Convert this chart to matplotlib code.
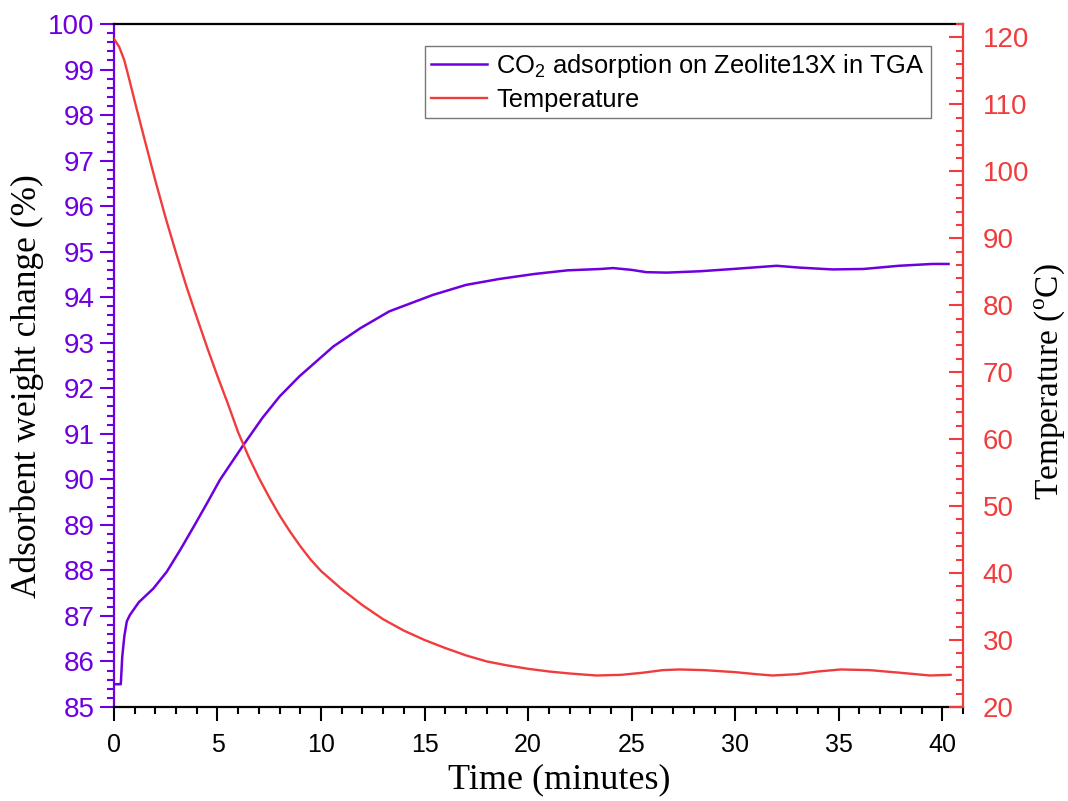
import matplotlib
matplotlib.use("Agg")
import matplotlib.pyplot as plt
from matplotlib.ticker import MultipleLocator

plt.rcParams['mathtext.fontset'] = 'custom'
plt.rcParams['mathtext.rm'] = 'Liberation Serif'
plt.rcParams['mathtext.sf'] = 'Liberation Sans'

# --- data ---
t_w = [0, 0.33, 0.4, 0.5, 0.62, 0.77, 1.2, 1.9, 2.55, 3.2, 3.85, 4.5, 5.12, 6.2, 7.17, 8.0,
       8.95, 10.6, 11.9, 13.3, 15.4, 17.0, 18.6, 20.3, 21.9, 23.5, 24.1, 25.0, 25.7, 26.7,
       28.3, 29.9, 32.0, 33.1, 34.7, 36.2, 37.9, 39.5, 40.3]
weight = [85.5, 85.5, 86.1, 86.55, 86.88, 87.02, 87.3, 87.6, 87.97, 88.45, 88.96, 89.48, 89.99,
          90.72, 91.35, 91.82, 92.26, 92.92, 93.32, 93.69, 94.05, 94.27, 94.4, 94.51, 94.59,
          94.62, 94.64, 94.6, 94.55, 94.54, 94.57, 94.62, 94.69, 94.65, 94.61, 94.62, 94.69,
          94.73, 94.73]

t_T = [0, 0.25, 0.5, 0.75, 1.0, 1.5, 2.0, 2.5, 3.0, 3.5, 4.0, 4.5, 5.0, 5.5, 6.0, 6.5,
       7.0, 7.5, 8.0, 8.5, 9.0, 9.5, 10.0, 11.0, 12.0, 13.0, 14.0, 15.0, 16.0, 17.0, 18.0,
       19.0, 20.0, 21.0, 22.0, 23.3, 24.5, 25.5, 26.5, 27.3, 28.5, 30.0, 31.0, 31.8, 33.0,
       34.0, 35.1, 36.5, 38.0, 39.4, 40.4]
temp = [119.8, 118.6, 116.6, 113.6, 110.5, 104.5, 98.6, 93.0, 87.8, 82.8, 78.2, 73.7, 69.4,
        65.3, 61.0, 57.4, 54.2, 51.3, 48.6, 46.2, 44.0, 42.0, 40.3, 37.6, 35.2, 33.1, 31.4,
        30.0, 28.8, 27.7, 26.8, 26.2, 25.7, 25.3, 25.0, 24.7, 24.8, 25.1, 25.5, 25.6, 25.5,
        25.2, 24.9, 24.7, 24.9, 25.3, 25.6, 25.5, 25.1, 24.7, 24.8]

x_ticks = [0, 5, 10, 15, 20, 25, 30, 35, 40]
left_ticks = list(range(85, 101))
right_ticks = list(range(20, 121, 10))

purple = '#6E00E0'
red = '#F03C3C'

fig = plt.figure(figsize=(10.68, 8.01), dpi=100)
ax1 = fig.add_axes([0.1067, 0.1174, 0.9017 - 0.1067, 0.970 - 0.1174])
ax2 = ax1.twinx()

l1, = ax1.plot(t_w, weight, color=purple, lw=1.8,
               label='CO$_\\mathsf{2}$ adsorption on Zeolite13X in TGA')
l2, = ax2.plot(t_T, temp, color=red, lw=1.7, label='Temperature')

ax1.set_xlim(0, 41)
ax1.set_ylim(85, 100)
ax2.set_ylim(20, 122)

ax1.set_xticks(x_ticks)
ax1.xaxis.set_minor_locator(MultipleLocator(1))
ax1.set_yticks(left_ticks)
ax1.yaxis.set_minor_locator(MultipleLocator(0.2))
ax2.set_yticks(right_ticks)
ax2.yaxis.set_minor_locator(MultipleLocator(2))

tickfont = 'Liberation Sans'
ax1.tick_params(axis='x', which='major', direction='out', length=10, width=1.5,
                labelsize=18, colors='black', pad=9)
ax1.tick_params(axis='x', which='minor', direction='out', length=5, width=1.5, colors='black')
ax1.tick_params(axis='y', which='major', direction='out', length=10, width=1.5,
                labelsize=20, colors=purple, pad=4)
ax1.tick_params(axis='y', which='minor', direction='out', length=5, width=1.5, colors=purple)
ax2.tick_params(axis='y', which='major', direction='in', length=10, width=1.5,
                labelsize=20, colors=red, pad=14)
ax2.tick_params(axis='y', which='minor', direction='in', length=5, width=1.5, colors=red)

for lab in ax1.get_xticklabels() + ax1.get_yticklabels() + ax2.get_yticklabels():
    lab.set_fontfamily(tickfont)

for ax in (ax1, ax2):
    for s in ax.spines.values():
        s.set_linewidth(1.6)
ax1.spines['left'].set_color(purple)
ax1.spines['right'].set_visible(False)
ax1.spines['top'].set_color('black')
ax1.spines['bottom'].set_color('black')
ax2.spines['right'].set_color(red)
ax2.spines['left'].set_visible(False)
ax2.spines['top'].set_visible(False)
ax2.spines['bottom'].set_visible(False)

ax1.set_xlabel('Time (minutes)', fontsize=26, family='Liberation Serif')
ax1.xaxis.set_label_coords(0.524, -0.082)
ax1.set_ylabel('Adsorbent weight change (%)', fontsize=25.5, family='Liberation Serif')
ax1.yaxis.set_label_coords(-0.082, 0.47)
ax2.set_ylabel('Temperature ($^{\\rm o}$C)', fontsize=24, family='Liberation Serif')
ax2.yaxis.set_label_coords(1.081, 0.476)

leg = ax2.legend(handles=[l1, l2], loc='upper right', bbox_to_anchor=(0.962, 0.968),
                 prop={'family': 'Liberation Sans', 'size': 18.4}, frameon=True, fancybox=False,
                 borderpad=0.25, labelspacing=0.3, handlelength=2.2, handletextpad=0.35,
                 borderaxespad=0)
leg.get_frame().set_edgecolor('#555555')
leg.get_frame().set_linewidth(1.0)

fig.savefig('out.png', dpi=100)
